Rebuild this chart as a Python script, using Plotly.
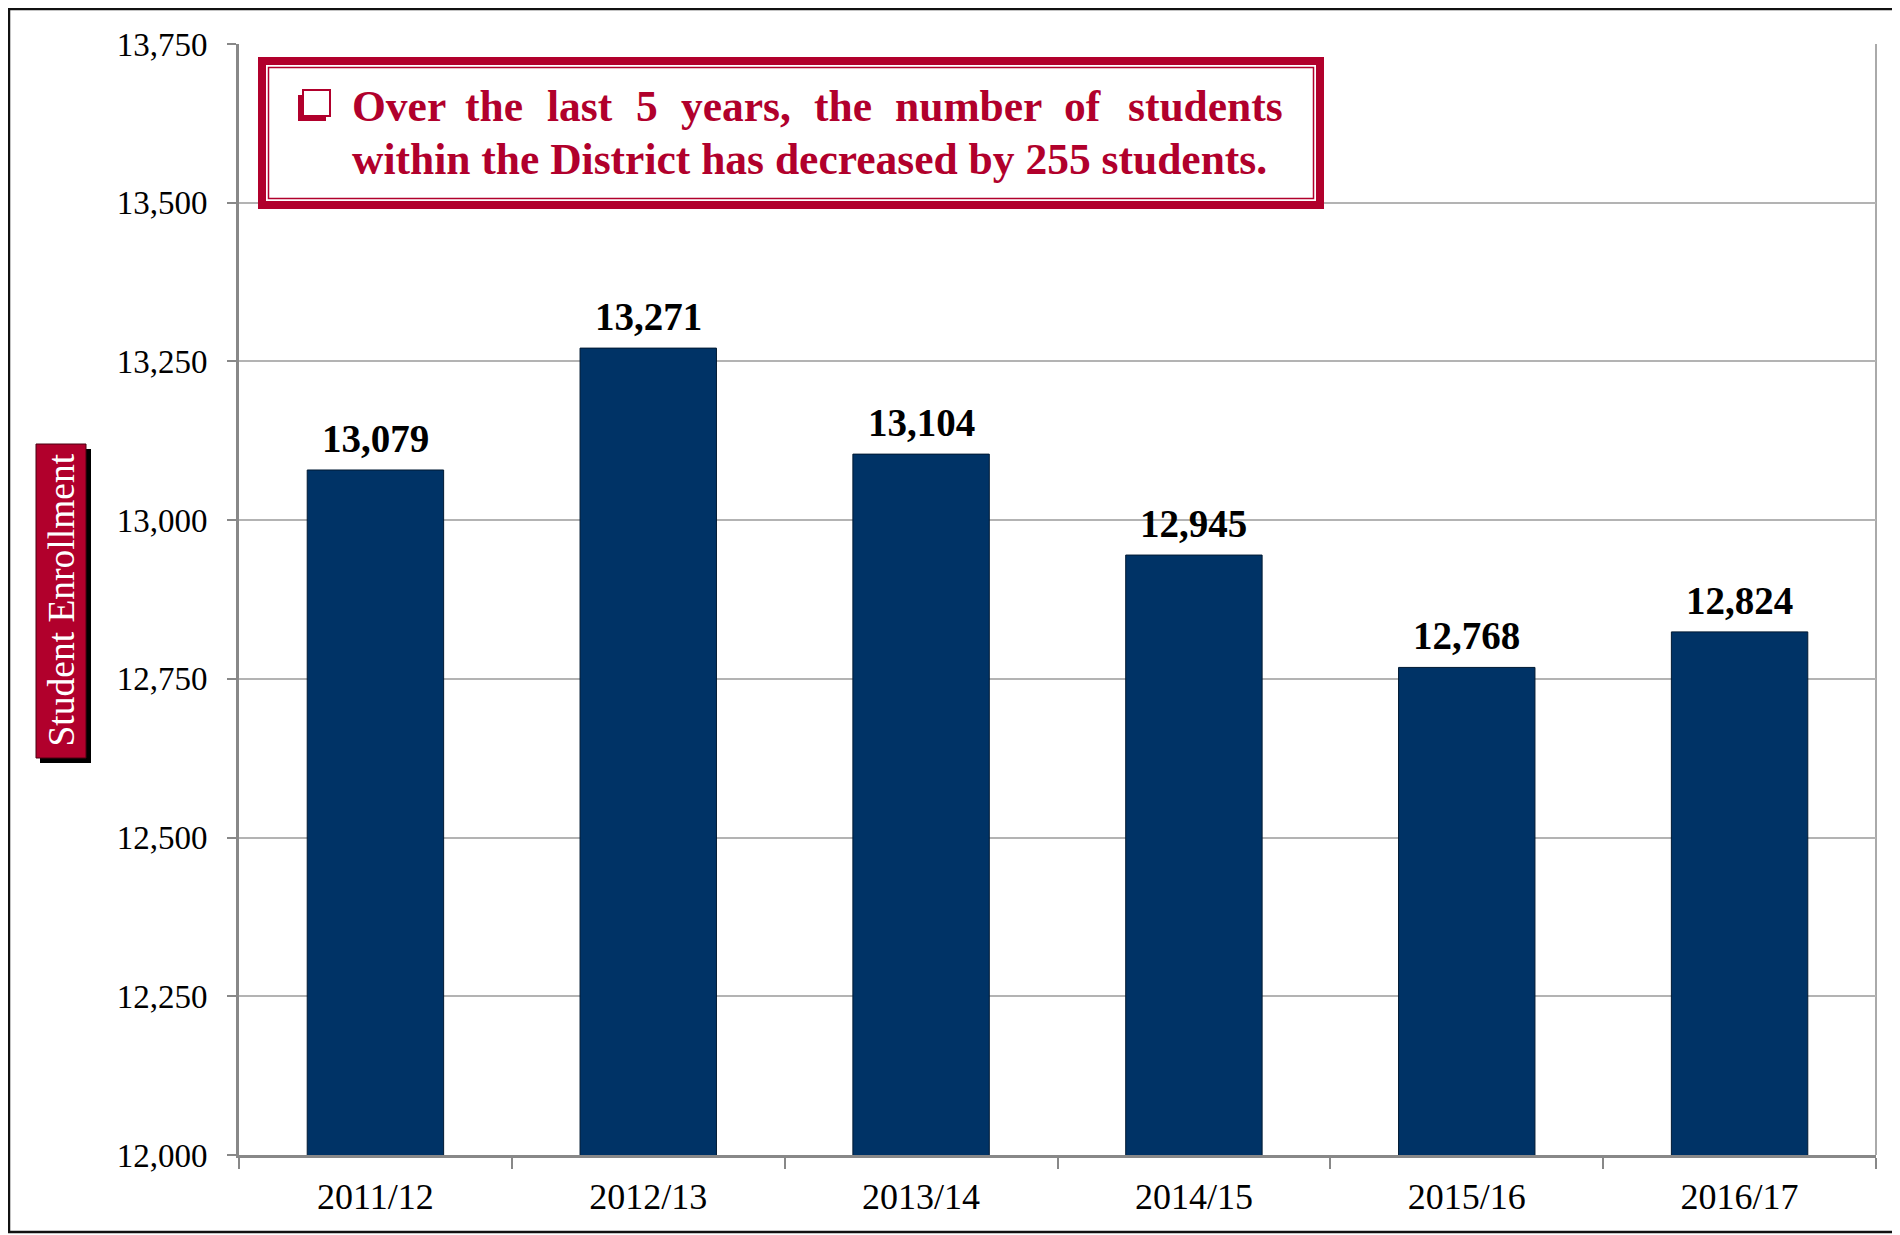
import plotly.graph_objects as go

# ---- data ----
years = ["2011/12", "2012/13", "2013/14", "2014/15", "2015/16", "2016/17"]
enrollment = [13079, 13271, 13104, 12945, 12768, 12824]
y_ticks = [12000, 12250, 12500, 12750, 13000, 13250, 13500, 13750]
y_title = "Student Enrollment"
note_line1_words = ["Over", "the", "last", "5", "years,", "the", "number", "of", "students"]
note_line2 = "within the District has decreased by 255 students."

# ---- layout constants (page pixel coordinates; page body has an 8px margin) ----
OFF = 8
W, H = 1900 - OFF, 1235 - OFF
L, R, T, B = 239, 1876, 44, 1155     # plot area on page
RED = "#B1002C"
NAVY = "#003366"
SERIF = "Liberation Serif"

def px(xp):
    return (xp - L) / (R - L)

def py(yp):
    return (B - yp) / (B - T)

fig = go.Figure()
fig.add_trace(go.Bar(
    x=years, y=enrollment, width=0.5,
    marker=dict(color=NAVY, line=dict(color="#001a33", width=1)),
    hoverinfo="x+y",
))

annotations = []
# data labels
for cat, val in zip(years, enrollment):
    annotations.append(dict(
        x=cat, y=val, xref="x", yref="y", text=f"{val:,}", showarrow=False,
        yanchor="bottom", yshift=8,
        font=dict(family=SERIF, size=39, color="black", weight="bold"),
    ))

# note box text, first line justified word by word
word_lefts = [350, 463, 545, 634, 679, 812, 893, 1062, 1126]
for w, xl in zip(note_line1_words, word_lefts):
    annotations.append(dict(
        x=px(xl), y=py(106), xref="paper", yref="paper", text=w, showarrow=False,
        xanchor="left", yanchor="middle",
        font=dict(family=SERIF, size=43.5, color=RED, weight="bold"),
    ))
annotations.append(dict(
    x=px(350), y=py(159), xref="paper", yref="paper", text=note_line2, showarrow=False,
    xanchor="left", yanchor="middle",
    font=dict(family=SERIF, size=43.5, color=RED, weight="bold"),
))
# y-axis title badge
annotations.append(dict(
    x=px(60.5), y=py(600), xref="paper", yref="paper", text=y_title, showarrow=False,
    textangle=-90, xanchor="center", yanchor="middle",
    font=dict(family=SERIF, size=37.5, color="white"),
))

shapes = [
    # outer frame
    dict(type="path", xref="paper", yref="paper",
         path=f"M {px(1910)},{py(9)} L {px(9)},{py(9)} L {px(9)},{py(1232)} L {px(1910)},{py(1232)}",
         line=dict(color="#111111", width=2.5), layer="above"),
    # plot right edge
    dict(type="line", xref="paper", yref="paper", x0=1, x1=1, y0=0, y1=1,
         line=dict(color="#aaaaaa", width=2), layer="below"),
    # note box
    dict(type="rect", xref="paper", yref="paper",
         x0=px(262), x1=px(1320), y0=py(205), y1=py(61),
         line=dict(color=RED, width=8), fillcolor="white", layer="above"),
    dict(type="rect", xref="paper", yref="paper",
         x0=px(268.5), x1=px(1313.5), y0=py(198.5), y1=py(67.5),
         line=dict(color=RED, width=1.5), fillcolor="rgba(0,0,0,0)", layer="above"),
    # bullet box (shadowed square)
    dict(type="rect", xref="paper", yref="paper",
         x0=px(298), x1=px(326), y0=py(121), y1=py(95),
         line=dict(width=0), fillcolor=RED, layer="above"),
    dict(type="rect", xref="paper", yref="paper",
         x0=px(303), x1=px(330), y0=py(116), y1=py(90),
         line=dict(color=RED, width=2), fillcolor="white", layer="above"),
    # y title badge shadow and body
    dict(type="rect", xref="paper", yref="paper",
         x0=px(40), x1=px(91), y0=py(763), y1=py(449),
         line=dict(width=0), fillcolor="black", layer="above"),
    dict(type="rect", xref="paper", yref="paper",
         x0=px(36), x1=px(86), y0=py(758), y1=py(444),
         line=dict(color="#4a0010", width=1), fillcolor=RED, layer="above"),
]

fig.update_layout(
    width=W, height=H,
    margin=dict(l=L - OFF, r=1900 - R, t=T - OFF, b=H - (B - OFF)),
    paper_bgcolor="white", plot_bgcolor="white",
    showlegend=False,
    annotations=annotations,
    shapes=shapes,
    bargap=0.5,
)
fig.update_xaxes(
    type="category", tickson="boundaries", ticks="outside", ticklen=11,
    tickcolor="#888888", tickwidth=2,
    showline=True, linecolor="#888888", linewidth=3,
    showgrid=False,
    tickfont=dict(family=SERIF, size=36, color="black"),
    ticklabelstandoff=8,
)
fig.update_yaxes(
    range=[12000, 13750], tickvals=y_ticks, tickformat=",",
    ticks="outside", ticklen=9, tickcolor="#888888", tickwidth=2,
    showline=True, linecolor="#888888", linewidth=3,
    showgrid=True, gridcolor="#b3b3b3", gridwidth=2,
    zeroline=False,
    tickfont=dict(family=SERIF, size=33, color="black"),
    ticklabelstandoff=13,
)

fig.write_html("out.html")
